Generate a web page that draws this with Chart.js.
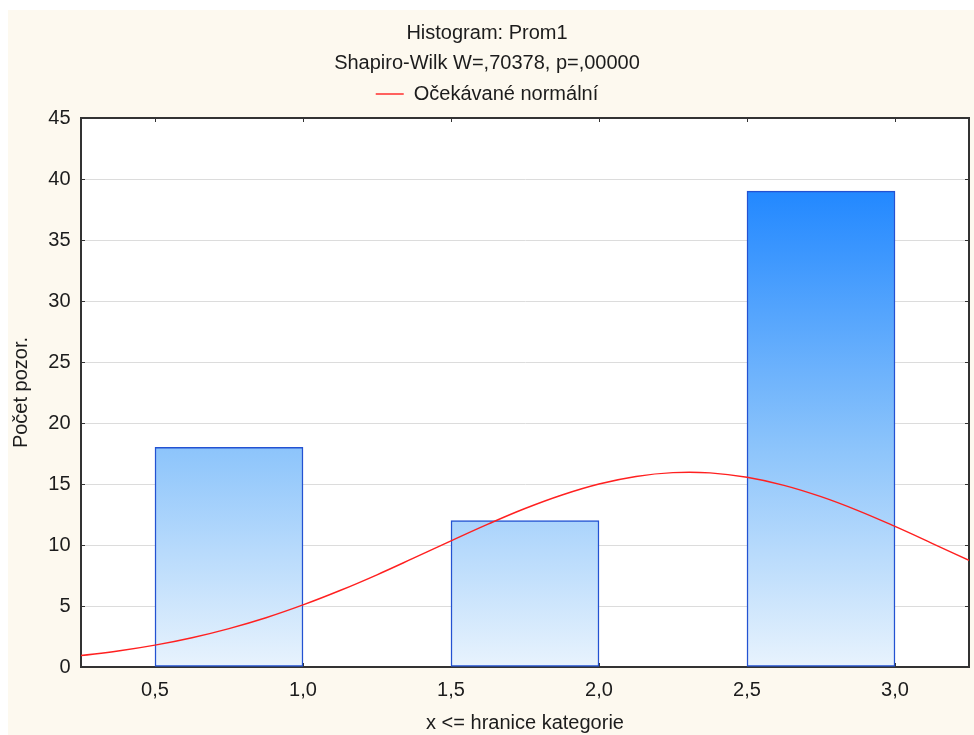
<!DOCTYPE html>
<html>
<head>
<meta charset="utf-8">
<script src="https://cdn.jsdelivr.net/npm/chart.js@4.4.1/dist/chart.umd.min.js"></script>
<style>
  html, body { margin: 0; padding: 0; background: #ffffff; }
  #wrap { position: relative; width: 974px; height: 735px; }
</style>
</head>
<body>
<div id="wrap"><canvas id="chart" width="974" height="735"></canvas></div>
<script>
// Histogram bins (upper boundaries shown on the x axis) and observed counts
const binLower = [0.5, 1.5, 2.5];
const binUpper = [1.0, 2.0, 3.0];
const counts = [18, 12, 39];

// Expected normal curve, sampled along the x axis
const curveX = [0.25, 0.375, 0.5, 0.625, 0.75, 0.875, 1.0, 1.125, 1.25, 1.375, 1.5, 1.625,
                1.75, 1.875, 2.0, 2.125, 2.25, 2.375, 2.5, 2.625, 2.75, 2.875, 3.0, 3.125, 3.25];
const curveY = [0.94, 1.31, 1.79, 2.40, 3.15, 4.04, 5.09, 6.27, 7.56, 8.94, 10.34, 11.71,
                12.99, 14.10, 15.00, 15.62, 15.93, 15.91, 15.55, 14.89, 13.96, 12.82, 11.52, 10.14, 8.74];

// Axis ticks
const xTicks = [0.5, 1.0, 1.5, 2.0, 2.5, 3.0];
const yTicks = [0, 5, 10, 15, 20, 25, 30, 35, 40, 45];

const titleText = 'Histogram: Prom1';
const subtitleText = 'Shapiro-Wilk W=,70378, p=,00000';
const curveLabel = 'Očekávané normální';
const xTitle = 'x <= hranice kategorie';
const yTitle = 'Počet pozor.';

const FONT = "'Liberation Sans', Arial, sans-serif";
const TEXT = '#1c1c1c';
const AXIS = '#333333';

const barData = counts.map((c, i) => ({ x: (binLower[i] + binUpper[i]) / 2, y: c }));
const curveData = curveX.map((x, i) => ({ x: x, y: curveY[i] }));

const fmt = v => v.toFixed(1).replace('.', ',');
const setXTicks = axis => { axis.ticks = xTicks.map(v => ({ value: v })); };
const setYTicks = axis => { axis.ticks = yTicks.map(v => ({ value: v })); };

// Cream page background and white plotting area
const backdrop = {
  id: 'backdrop',
  beforeDraw(chart) {
    const { ctx, chartArea: a } = chart;
    ctx.save();
    ctx.fillStyle = '#ffffff';
    ctx.fillRect(0, 0, chart.width, chart.height);
    ctx.fillStyle = '#fdf9ef';
    ctx.fillRect(8, 10, chart.width - 8, chart.height - 10);
    ctx.fillStyle = '#ffffff';
    ctx.fillRect(a.left, a.top, a.right - a.left, a.bottom - a.top);
    ctx.restore();
  }
};

function barGradient(context) {
  const { chart } = context;
  const a = chart.chartArea;
  if (!a) return '#8cc4fb';
  const g = chart.ctx.createLinearGradient(0, a.top, 0, a.bottom);
  g.addColorStop(0, '#1a80ff');
  g.addColorStop(0.133, '#2288ff');
  g.addColorStop(0.6, '#8cc4fb');
  g.addColorStop(1, '#e8f3fd');
  return g;
}

new Chart(document.getElementById('chart'), {
  type: 'bar',
  data: {
    datasets: [
      {
        type: 'line',
        label: curveLabel,
        data: curveData,
        borderColor: '#ff2020',
        backgroundColor: '#ff2020',
        borderWidth: 1.4,
        pointRadius: 0,
        tension: 0.4,
        order: 0
      },
      {
        type: 'bar',
        label: 'Počet',
        data: barData,
        backgroundColor: barGradient,
        borderColor: '#2352d2',
        borderWidth: 1.5,
        borderSkipped: false,
        categoryPercentage: 1.0,
        barPercentage: 1.0,
        order: 1
      }
    ]
  },
  options: {
    responsive: false,
    animation: false,
    layout: { padding: { top: 21, left: 0, right: 0, bottom: 0 } },
    plugins: {
      title: {
        display: true, text: titleText, color: TEXT,
        font: { family: FONT, size: 20, weight: 'normal' },
        padding: { top: 0, bottom: 6 }
      },
      subtitle: {
        display: true, text: subtitleText, color: TEXT,
        font: { family: FONT, size: 20, weight: 'normal' },
        padding: { top: 0, bottom: 3 }
      },
      legend: {
        display: true,
        labels: {
          color: TEXT,
          font: { family: FONT, size: 20 },
          usePointStyle: true,
          pointStyle: 'line',
          pointStyleWidth: 28,
          padding: 6,
          filter: item => item.datasetIndex === 0
        }
      },
      tooltip: { enabled: false }
    },
    scales: {
      x: {
        type: 'linear', position: 'bottom',
        min: 0.25, max: 3.25, offset: false,
        afterBuildTicks: setXTicks,
        afterFit: axis => { axis.height = 68; },
        grid: { offset: false, drawOnChartArea: false, drawTicks: true, tickLength: -4, tickColor: AXIS },
        border: { display: true, color: AXIS, width: 2 },
        ticks: { color: TEXT, font: { family: FONT, size: 20 }, padding: 15, callback: v => fmt(v), maxRotation: 0, autoSkip: false },
        title: { display: true, text: xTitle, color: TEXT, font: { family: FONT, size: 20 }, padding: { top: 0, bottom: 0 } }
      },
      x2: {
        type: 'linear', position: 'top',
        min: 0.25, max: 3.25, offset: false,
        afterBuildTicks: setXTicks,
        afterFit: axis => { axis.height = 4; },
        grid: { offset: false, drawOnChartArea: false, drawTicks: true, tickLength: -4, tickColor: AXIS },
        border: { display: true, color: AXIS, width: 2 },
        ticks: { display: false }
      },
      y: {
        type: 'linear', position: 'left',
        min: 0, max: 45,
        afterBuildTicks: setYTicks,
        afterFit: axis => { axis.width = 81; },
        grid: { color: '#dcdcdc', lineWidth: 1, drawTicks: true, tickLength: -4, tickColor: AXIS },
        border: { display: true, color: AXIS, width: 2 },
        ticks: { color: TEXT, font: { family: FONT, size: 20 }, padding: 14.5 },
        title: { display: true, text: yTitle, color: TEXT, font: { family: FONT, size: 20 }, padding: { top: 9, bottom: 0 } }
      },
      y2: {
        type: 'linear', position: 'right',
        min: 0, max: 45,
        afterBuildTicks: setYTicks,
        afterFit: axis => { axis.width = 5; },
        grid: { drawOnChartArea: false, drawTicks: true, tickLength: -4, tickColor: AXIS },
        border: { display: true, color: AXIS, width: 2 },
        ticks: { display: false }
      }
    }
  },
  plugins: [backdrop]
});
</script>
</body>
</html>
